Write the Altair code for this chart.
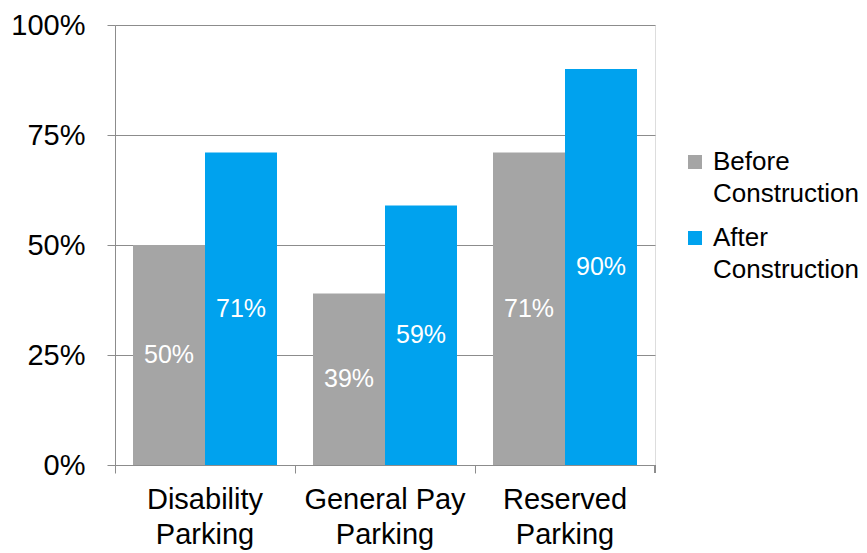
import altair as alt
import pandas as pd

categories = ["Disability Parking", "General Pay Parking", "Reserved Parking"]
series = ["Before Construction", "After Construction"]
before_vals = [0.50, 0.39, 0.71]
after_vals = [0.71, 0.59, 0.90]
y_ticks = [0, 0.25, 0.5, 0.75, 1.0]
colors = ["#A5A5A5", "#00A2EE"]

rows = []
for c, b, a in zip(categories, before_vals, after_vals):
    rows.append({"cat": c, "series": series[0], "value": b, "order": 0})
    rows.append({"cat": c, "series": series[1], "value": a, "order": 1})
df = pd.DataFrame(rows)

FONT = "Liberation Sans"
GRID = "#8C8C8C"

x_enc = alt.X(
    "cat:N",
    sort=categories,
    scale=alt.Scale(paddingInner=0, paddingOuter=0),
    axis=alt.Axis(
        title=None,
        labelAngle=0,
        bandPosition=0,
        labelExpr="datum.value == 'General Pay Parking' ? ['General Pay', 'Parking'] : split(datum.value, ' ')",
        labelFontSize=29,
        labelLineHeight=35,
        labelColor="#000000",
        labelFont=FONT,
        labelPadding=12,
        tickColor=GRID,
        tickSize=8,
        domainColor=GRID,
        grid=False,
    ),
)
xo_enc = alt.XOffset(
    "series:N",
    sort=series,
    scale=alt.Scale(paddingInner=0, paddingOuter=0.25),
)

bars = alt.Chart(df).mark_bar().encode(
    x=x_enc,
    xOffset=xo_enc,
    y=alt.Y(
        "value:Q",
        scale=alt.Scale(domain=[0, 1]),
        axis=alt.Axis(
            title=None,
            values=y_ticks,
            format=".0%",
            labelFontSize=29,
            labelColor="#000000",
            labelFont=FONT,
            labelPadding=22,
            tickColor=GRID,
            tickSize=8,
            domainColor=GRID,
            gridColor=GRID,
            gridWidth=1,
        ),
    ),
    color=alt.Color(
        "series:N",
        sort=series,
        scale=alt.Scale(domain=series, range=colors),
        legend=alt.Legend(
            title=None,
            orient="none",
            legendX=567,
            legendY=124,
            symbolType="square",
            symbolSize=196,
            symbolStrokeWidth=0,
            labelFontSize=26,
            labelFont=FONT,
            labelColor="#000000",
            labelExpr="split(datum.label, ' ')",
            labelOffset=5,
            rowPadding=18,
            labelLimit=300,
        ),
    ),
)

labels = alt.Chart(df).transform_calculate(mid="datum.value / 2").mark_text(
    color="white", fontSize=25, font=FONT
).encode(
    x=alt.X("cat:N", sort=categories),
    xOffset=xo_enc,
    y=alt.Y("mid:Q"),
    text=alt.Text("value:Q", format=".0%"),
)

last_tick = alt.Chart(df).mark_rule(color=GRID).encode(
    x=alt.value(540), y=alt.value(440), y2=alt.value(448)
)

chart = alt.layer(bars, labels, last_tick).properties(
    width=540,
    height=440,
    autosize=alt.AutoSizeParams(type="none"),
    padding={"left": 115, "top": 25, "right": 212, "bottom": 88},
).configure_view(stroke=None).configure(
    font=FONT, style={"guide-label": {"lineHeight": 32}}
)

chart.save("out.html", embed_options={"renderer": "svg", "actions": False})
